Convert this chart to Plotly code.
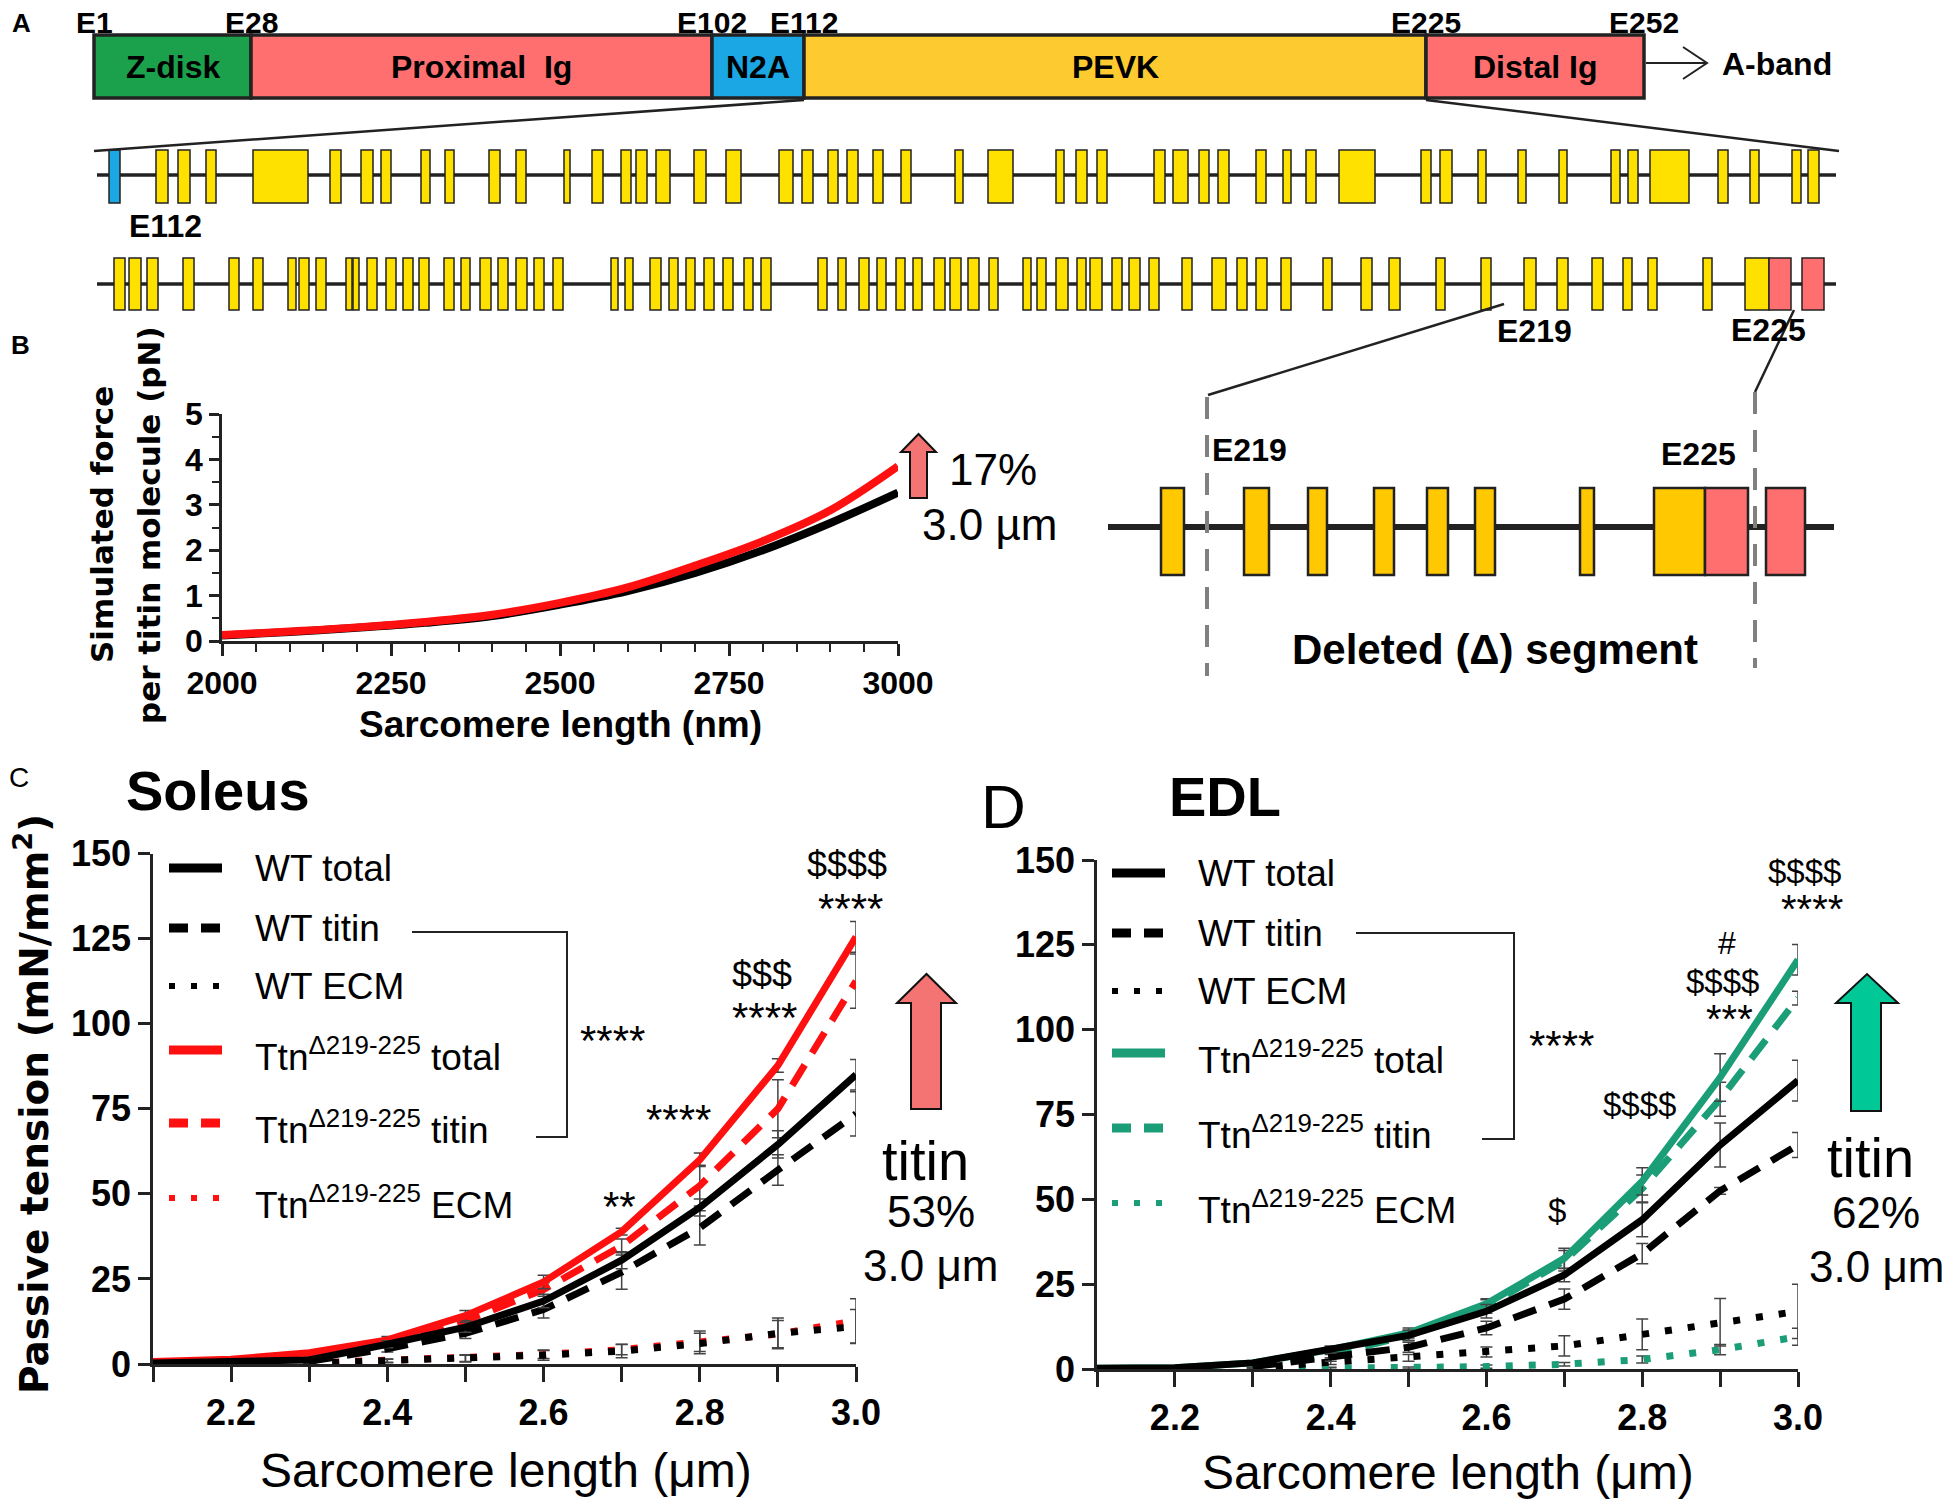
import plotly.graph_objects as go

W, H = 1950, 1505
OFF = 8  # the page body margin shifts the figure by 8 px
ARIAL = "Liberation Sans, Arial, Helvetica, sans-serif"
VERDANA = "DejaVu Sans, Verdana, sans-serif"

# ---------------- A: titin I-band layout (diagram units) ----------------
domain_names = ["Z-disk", "Proximal\u00a0\u00a0Ig", "N2A", "PEVK", "Distal Ig"]
domain_edges = [94, 251, 712, 804, 1426, 1644]
edge_labels = ["E1", "E28", "E102", "E112", "E225", "E252"]

# PEVK exons E112..E225, upper row
row1_start = [109, 156, 178, 206, 253, 330, 361, 381, 421, 445, 489, 516, 564, 592, 621, 636, 656, 694, 726, 779,
              802, 828, 847, 873, 901, 955, 988, 1056, 1076, 1097, 1154, 1173, 1199, 1218, 1256, 1283, 1306, 1339,
              1421, 1440, 1478, 1518, 1559, 1611, 1628, 1650, 1718, 1750, 1792, 1808]
row1_end = [120, 168, 190, 216, 308, 341, 373, 391, 430, 454, 500, 526, 570, 603, 631, 647, 670, 706, 741, 793,
            813, 838, 858, 883, 911, 963, 1013, 1064, 1087, 1107, 1165, 1188, 1209, 1229, 1266, 1291, 1316, 1375,
            1431, 1452, 1486, 1526, 1567, 1620, 1638, 1689, 1728, 1759, 1801, 1819]
# lower row
row2_start = [114, 129, 147, 183, 229, 253, 288, 299, 316, 346, 353, 367, 386, 403, 419, 444, 461, 480, 498, 516,
              534, 553, 611, 625, 650, 669, 686, 704, 723, 744, 761, 818, 838, 859, 877, 896, 913, 934, 950, 968,
              989, 1023, 1037, 1056, 1077, 1090, 1112, 1129, 1149, 1182, 1212, 1237, 1256, 1281, 1323, 1361, 1389,
              1436, 1481, 1524, 1557, 1592, 1623, 1648, 1703, 1745, 1769, 1802]
row2_end = [125, 141, 158, 194, 239, 263, 296, 309, 326, 352, 359, 377, 396, 413, 429, 454, 470, 491, 508, 527,
            544, 563, 618, 633, 661, 678, 695, 714, 733, 753, 771, 827, 846, 869, 886, 905, 922, 945, 961, 979,
            998, 1031, 1046, 1068, 1086, 1102, 1122, 1140, 1159, 1192, 1226, 1247, 1267, 1291, 1332, 1372, 1400,
            1445, 1491, 1536, 1568, 1603, 1632, 1657, 1712, 1769, 1791, 1824]
# deleted segment, enlarged
zoom_start = [1161, 1244, 1308, 1374, 1427, 1475, 1580, 1654, 1705, 1766]
zoom_end = [1184, 1269, 1327, 1394, 1448, 1495, 1594, 1705, 1748, 1805]

# ---------------- B: simulated force per titin molecule ----------------
sim_sl = [2000, 2100, 2200, 2300, 2400, 2500, 2600, 2700, 2800, 2900, 3000]
sim_wt = [0.12, 0.2, 0.29, 0.4, 0.55, 0.8, 1.1, 1.5, 2.0, 2.6, 3.27]
sim_del = [0.13, 0.21, 0.3, 0.42, 0.58, 0.84, 1.18, 1.66, 2.2, 2.88, 3.85]

# ---------------- C/D: passive tension ----------------
sl = [2.1, 2.2, 2.3, 2.4, 2.5, 2.6, 2.7, 2.8, 2.9, 3.0]

sol_wt_total = [0.3, 0.6, 1.2, 5.8, 10.8, 18.5, 30.5, 46, 64.5, 85]
sol_wt_titin = [None, None, 0.8, 4.5, 9, 16, 27, 40, 57, 73.5]
sol_wt_ecm = [None, None, 0.2, 0.9, 1.6, 2.6, 3.8, 6, 9, 11]
sol_del_total = [0.7, 1.4, 3.3, 7.1, 14.2, 24.1, 38.9, 60, 87.7, 125.5]
sol_del_titin = [None, None, 1.8, 6.1, 12.7, 21.9, 34.7, 52.4, 75, 112.5]
sol_del_ecm = [None, None, 0.3, 1, 1.7, 2.8, 4.2, 6.7, 8.8, 12.7]
sol_wt_total_err = [None, None, 0.5, 1, 1.5, 2, 2.5, 2.5, 4, 4.5]
sol_wt_titin_err = [None, None, 0.5, 1, 1.5, 2.5, 5, 5, 4.5, 6.5]
sol_wt_ecm_err = [None, None, None, 0.5, 1, 1.5, 2, 3, 4.5, 5]
sol_del_total_err = [None, None, 0.5, 1, 1.5, 2, 1, 2, 2, 4.5]
sol_del_titin_err = [None, None, 0.5, 1, 1.5, 2, 2, 6, 8.5, 8]
sol_del_ecm_err = [None, None, None, 0.5, 1, 1.2, 1.5, 3, 4, 6.5]

edl_wt_total = [0.2, 0.4, 1.8, 5.7, 9.9, 17, 27.7, 44, 66, 85]
edl_wt_titin = [None, None, 0.7, 3.3, 6.4, 12.1, 20.6, 34, 52.5, 66]
edl_wt_ecm = [None, None, 0.4, 2.1, 3.3, 5, 6.8, 10.2, 13.8, 17]
edl_del_total = [0.2, 0.4, 1.8, 5.7, 10.6, 19.2, 32.6, 55.3, 85.9, 120.6]
edl_del_titin = [None, None, 1, 4.3, 9.9, 18.4, 31.9, 53.2, 79.5, 109.3]
edl_del_ecm = [None, None, 0, 0.2, 0.3, 0.7, 1.4, 2.8, 5.7, 9.5]
edl_wt_total_err = [None, None, 0.5, 1, 1.5, 2, 2, 5, 6.5, 6]
edl_wt_titin_err = [None, None, 0.5, 1, 1.5, 2, 3, 3, 1, 3.7]
edl_wt_ecm_err = [None, None, None, 0.8, 1, 1.5, 3, 4.5, 7, 8]
edl_del_total_err = [None, None, 0.5, 1, 1.5, 1.5, 3, 4, 7, 4.5]
edl_del_titin_err = [None, None, 0.5, 1, 1.5, 2, 3, 4, 5, 2]
edl_del_ecm_err = [None, None, None, 0.3, 0.3, 0.5, 0.5, 1, 1.5, 2.5]

legend_labels = ["WT total", "WT titin", "WT ECM",
                 "Ttn<sup>\u0394219-225</sup> total", "Ttn<sup>\u0394219-225</sup> titin",
                 "Ttn<sup>\u0394219-225</sup> ECM"]

RED = "#ff1010"
GREEN = "#1b9e77"
SALMON = "#ff6f6f"
YELLOW = "#ffe100"
GOLD = "#ffc800"

fig = go.Figure()
OV = dict(xaxis="x4", yaxis="y4")


def fx(p):
    return (p - OFF) / W


def fy(p):
    return 1 - (p - OFF) / H


def exon_bars(starts, ends, top, bottom, colors, lw):
    fig.add_trace(go.Bar(
        x=[(a + b) / 2 for a, b in zip(starts, ends)],
        width=[b - a for a, b in zip(starts, ends)],
        base=top, y=[bottom - top] * len(starts),
        marker=dict(color=colors, line=dict(color="#222", width=lw)),
        hoverinfo="skip", showlegend=False, **OV))


def line(x0, y0, x1, y1, color="#222", width=2.5, dash=None, layer="above"):
    fig.add_shape(type="line", x0=x0, y0=y0, x1=x1, y1=y1, xref="x4", yref="y4",
                  layer=layer, line=dict(color=color, width=width, dash=dash))


def text(x, y, s, size, bold=False, xanchor="center", family=ARIAL, angle=0, color="black"):
    fig.add_annotation(x=x, y=y, xref="x4", yref="y4", text=f"<b>{s}</b>" if bold else s,
                       showarrow=False, xanchor=xanchor, yanchor="middle", textangle=angle,
                       font=dict(family=family, size=size, color=color))


# ---- panel A ----
seg_colors = ["#1ba04c", SALMON, "#1aa7e3", "#fdca2f", SALMON]
exon_bars(domain_edges[:-1], domain_edges[1:], 35, 98, seg_colors, 3.5)
for i, name in enumerate(domain_names):
    text((domain_edges[i] + domain_edges[i + 1]) / 2, 67, name, 32, bold=True)
for e, lab in zip(domain_edges, edge_labels):
    text(e, 22, lab, 30, bold=True)
fig.add_shape(type="path", path="M 1646 63 L 1706 63 M 1683 47 L 1707 63 L 1683 79",
              xref="x4", yref="y4", line=dict(color="#222", width=2))
text(1720, 64, "A-band", 32, bold=True, xanchor="left")

line(804, 100, 94, 151)
line(1426, 100, 1839, 151)
line(97, 175, 1836, 175, width=3.5, layer="below")
line(97, 284, 1836, 284, width=3.5, layer="below")
exon_bars(row1_start, row1_end, 150, 203, ["#1aa7e3"] + [YELLOW] * (len(row1_start) - 1), 1.5)
exon_bars(row2_start, row2_end, 258, 310, [YELLOW] * (len(row2_start) - 2) + [SALMON] * 2, 1.5)
text(165, 226, "E112", 32, bold=True)
text(1534, 331, "E219", 32, bold=True)
text(1768, 330, "E225", 32, bold=True)

# enlarged deleted segment
line(1504, 304, 1208, 395)
line(1794, 310, 1755, 392)
line(1108, 527, 1834, 527, width=6, layer="below")
exon_bars(zoom_start, zoom_end, 488, 575, [GOLD] * (len(zoom_start) - 2) + [SALMON] * 2, 2.5)
line(1207, 397, 1207, 676, color="#808080", width=4, dash="22px,16px")
line(1755, 392, 1755, 668, color="#808080", width=4, dash="22px,16px")
text(1249, 450, "E219", 32, bold=True)
text(1698, 454, "E225", 32, bold=True)
text(1495, 649, "Deleted (\u0394) segment", 42, bold=True)

text(21, 23, "A", 26, bold=True)
text(20, 345, "B", 26, bold=True)
text(19, 777, "C", 28)
text(1003, 806, "D", 62)

# ---- panel B ----
fig.add_trace(go.Scatter(x=sim_sl, y=sim_wt, mode="lines", line=dict(color="black", width=8, shape="spline"),
                         cliponaxis=False, showlegend=False, xaxis="x", yaxis="y"))
fig.add_trace(go.Scatter(x=sim_sl, y=sim_del, mode="lines", line=dict(color=RED, width=8, shape="spline"),
                         cliponaxis=False, showlegend=False, xaxis="x", yaxis="y"))
text(102, 525, "Simulated force", 31, bold=True, family=VERDANA, angle=-90)
text(149, 525, "per titin molecule (pN)", 31, bold=True, family=VERDANA, angle=-90)
text(560, 724, "Sarcomere length (nm)", 37, bold=True)
fig.add_shape(type="path", path="M 910 498 L 927 498 L 927 452 L 936 452 L 918.5 434 L 901 452 L 910 452 Z",
              xref="x4", yref="y4", fillcolor="#f47373", line=dict(color="#111", width=2))
text(947, 469, "17%", 44, xanchor="left")
text(989, 524, "3.0 \u00b5m", 44)


# ---- panels C and D ----
def tension(xa, ya, series, errs, colors):
    styles = [("solid", 7), ("24px,14px", 7), ("7px,16px", 7)]
    for k in [5, 4, 3, 2, 1, 0]:
        dash, w = styles[k % 3]
        fig.add_trace(go.Scatter(
            x=sl, y=series[k], mode="lines", name=legend_labels[k],
            line=dict(color=colors[k], width=w, dash=dash),
            error_y=dict(type="data", array=errs[k], color="#444", thickness=1.5, width=6),
            cliponaxis=False, showlegend=False, xaxis=xa, yaxis=ya))


tension("x2", "y2",
        [sol_wt_total, sol_wt_titin, sol_wt_ecm, sol_del_total, sol_del_titin, sol_del_ecm],
        [sol_wt_total_err, sol_wt_titin_err, sol_wt_ecm_err, sol_del_total_err, sol_del_titin_err, sol_del_ecm_err],
        ["black"] * 3 + [RED] * 3)
tension("x3", "y3",
        [edl_wt_total, edl_wt_titin, edl_wt_ecm, edl_del_total, edl_del_titin, edl_del_ecm],
        [edl_wt_total_err, edl_wt_titin_err, edl_wt_ecm_err, edl_del_total_err, edl_del_titin_err, edl_del_ecm_err],
        ["black"] * 3 + [GREEN] * 3)


def legend(x0, ys, colors):
    dashes = [(None, 9), ("19px,13px", 9), ("6px,16px", 6)] * 2
    for k, y in enumerate(ys):
        d, w = dashes[k]
        line(x0, y, x0 + 53, y, color=colors[k], width=w, dash=d)
        text(x0 + 84, y + (4 if k > 2 else 0), legend_labels[k], 37, xanchor="left")


legend(169, [868, 928, 986, 1050, 1123, 1198], ["black"] * 3 + [RED] * 3)
legend(1112, [873, 933, 991, 1053, 1128, 1203], ["black"] * 3 + [GREEN] * 3)

fig.add_shape(type="path", path="M 412 932 L 567 932 L 567 1137 L 536 1137", xref="x4", yref="y4",
              line=dict(color="#222", width=2))
fig.add_shape(type="path", path="M 1356 933 L 1514 933 L 1514 1139 L 1482 1139", xref="x4", yref="y4",
              line=dict(color="#222", width=2))

text(32, 1104, "Passive tension (mN/mm<sup>2</sup>)", 39, bold=True, family=VERDANA, angle=-90)
text(506, 1470, "Sarcomere length (\u03bcm)", 48)
text(1448, 1472, "Sarcomere length (\u03bcm)", 48)
text(218, 790, "Soleus", 56, bold=True)
text(1225, 796, "EDL", 56, bold=True)

# significance marks (Soleus)
for s, x, y, sz in [("**", 619, 1206, 42), ("****", 678, 1119, 42), ("$$$", 762, 974, 36),
                    ("****", 764, 1017, 42), ("$$$$", 847, 864, 36), ("****", 850, 908, 42),
                    ("****", 612, 1040, 42)]:
    text(x, y, s, sz)
# significance marks (EDL)
for s, x, y, sz in [("$", 1557, 1210, 33), ("$$$$", 1639, 1104, 33), ("#", 1727, 943, 32),
                    ("$$$$", 1722, 981, 33), ("***", 1729, 1019, 40), ("$$$$", 1804, 871, 33),
                    ("****", 1812, 909, 40), ("****", 1561, 1045, 42)]:
    text(x, y, s, sz)

# block arrows
fig.add_shape(type="path", path="M 911 1109 L 941 1109 L 941 1003 L 956 1003 L 926.5 974 L 897 1003 L 911 1003 Z",
              xref="x4", yref="y4", fillcolor="#f47373", line=dict(color="#111", width=2))
fig.add_shape(type="path", path="M 1851 1111 L 1881 1111 L 1881 1003 L 1898 1003 L 1867 974 L 1836 1003 L 1851 1003 Z",
              xref="x4", yref="y4", fillcolor="#00c896", line=dict(color="#111", width=2))
text(925, 1160, "titin", 56)
text(931, 1211, "53%", 44)
text(930, 1265, "3.0 \u03bcm", 44)
text(1870, 1157, "titin", 56)
text(1876, 1212, "62%", 44)
text(1876, 1266, "3.0 \u03bcm", 44)

# ---------------- axes ----------------
base_ax = dict(showgrid=False, zeroline=False, showline=True, linecolor="#222", linewidth=2.5,
               ticks="outside", tickcolor="#222", tickwidth=2.5, fixedrange=True, automargin=False,
               tickfont=dict(family=ARIAL, size=36, color="black", weight="bold"))
sl_ax = dict(base_ax, range=[2.1, 3.0], tick0=2.2, dtick=0.2, tickformat=".1f", ticklen=15,
             minor=dict(tick0=2.1, dtick=0.1, ticks="outside", ticklen=15, tickwidth=2.5, tickcolor="#222"))
pt_ax = dict(base_ax, range=[0, 150], tick0=0, dtick=25, ticklen=12)

fig.update_layout(
    width=W, height=H, margin=dict(l=0, r=0, t=0, b=0, pad=0, autoexpand=False),
    paper_bgcolor="white", plot_bgcolor="rgba(0,0,0,0)",
    showlegend=False, barmode="overlay", font=dict(family=ARIAL, color="black"),
    xaxis=dict(base_ax, domain=[fx(222), fx(898)], range=[2000, 3000], anchor="y",
               tick0=2000, dtick=250, ticklen=12, tickfont=dict(family=ARIAL, size=32, weight="bold"),
               minor=dict(dtick=50, ticks="outside", ticklen=8, tickwidth=2, tickcolor="#222")),
    yaxis=dict(base_ax, domain=[fy(641), fy(414)], range=[0, 5], anchor="x",
               tick0=0, dtick=1, ticklen=10, tickfont=dict(family=ARIAL, size=32, weight="bold"),
               minor=dict(dtick=0.5, ticks="outside", ticklen=7, tickwidth=2, tickcolor="#222")),
    xaxis2=dict(sl_ax, domain=[fx(153), fx(856)], anchor="y2"),
    yaxis2=dict(pt_ax, domain=[fy(1364), fy(853.5)], anchor="x2"),
    xaxis3=dict(sl_ax, domain=[fx(1097), fx(1798)], anchor="y3"),
    yaxis3=dict(pt_ax, domain=[fy(1369), fy(860)], anchor="x3"),
    xaxis4=dict(domain=[0, 1], range=[OFF, W + OFF], visible=False, anchor="y4", fixedrange=True, automargin=False),
    yaxis4=dict(domain=[0, 1], range=[H + OFF, OFF], visible=False, anchor="x4", fixedrange=True, automargin=False),
)

fig.write_html("out.html")
